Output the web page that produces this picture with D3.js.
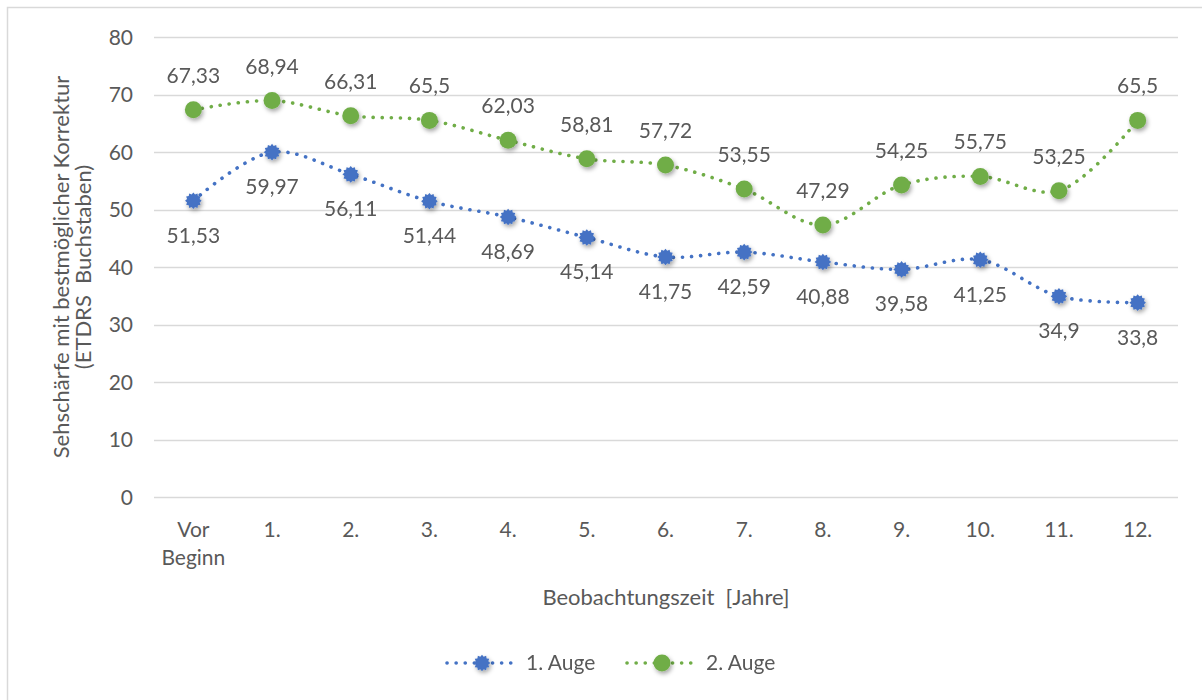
<!DOCTYPE html>
<html>
<head>
<meta charset="utf-8">
<script src="https://cdn.jsdelivr.net/npm/d3@7"></script>
<style>
  html, body { margin: 0; padding: 0; background: #fff; }
  svg text { font-family: Lato, "Open Sans", sans-serif; fill: #595959; white-space: pre; }
</style>
</head>
<body>
<svg id="chart" width="1202" height="700"></svg>
<script>
// Observation periods and visual acuity (ETDRS letters) per eye
const categories = ["Vor\nBeginn", "1.", "2.", "3.", "4.", "5.", "6.", "7.", "8.", "9.", "10.", "11.", "12."];
const auge1 = [51.53, 59.97, 56.11, 51.44, 48.69, 45.14, 41.75, 42.59, 40.88, 39.58, 41.25, 34.9, 33.8];
const auge2 = [67.33, 68.94, 66.31, 65.5, 62.03, 58.81, 57.72, 53.55, 47.29, 54.25, 55.75, 53.25, 65.5];
const yTicks = [0, 10, 20, 30, 40, 50, 60, 70, 80];
const seriesNames = ["1. Auge", "2. Auge"];

const svg = d3.select("#chart");
const fmt = v => String(v).replace(".", ",");
const FS = 21;
const TITLE_FS = 22;

const blue = "#4472C4", green = "#70AD47";

// drop shadow for markers
const defs = svg.append("defs");
const f = defs.append("filter").attr("id", "shadow").attr("x", "-60%").attr("y", "-60%").attr("width", "220%").attr("height", "220%");
f.append("feDropShadow").attr("dx", 1.5).attr("dy", 2.5).attr("stdDeviation", 2)
  .attr("flood-color", "#000").attr("flood-opacity", 0.35);

// outer frame
svg.append("rect").attr("x", 7.5).attr("y", 7.5).attr("width", 1210).attr("height", 710)
  .attr("fill", "none").attr("stroke", "#d9d9d9").attr("stroke-width", 1.5);

const x = d3.scaleBand().domain(categories).range([154, 1177]);
const y = d3.scaleLinear().domain([0, 80]).range([497, 37]);
const cx = c => x(c) + x.bandwidth() / 2;

// gridlines
svg.append("g").selectAll("line").data(yTicks).join("line")
  .attr("x1", 154).attr("x2", 1178)
  .attr("y1", d => Math.round(y(d)) + 0.5).attr("y2", d => Math.round(y(d)) + 0.5)
  .attr("stroke", "#d9d9d9").attr("stroke-width", 1.3);

// y axis labels
const yAxis = svg.append("g").attr("transform", "translate(133,0)")
  .call(d3.axisLeft(y).tickValues(yTicks).tickSize(0).tickPadding(0));
yAxis.select(".domain").remove();
yAxis.selectAll("text").attr("font-size", FS).attr("fill", "#595959")
  .style("font-family", "Lato, sans-serif").attr("dy", "0.35em");

// x axis labels (multi-line)
const xAxis = svg.append("g").attr("transform", "translate(0,497)")
  .call(d3.axisBottom(x).tickSize(0).tickPadding(0).tickFormat(""));
xAxis.select(".domain").remove();
xAxis.selectAll(".tick").each(function(d) {
  const t = d3.select(this).append("text").attr("text-anchor", "middle")
    .attr("font-size", FS).attr("fill", "#595959").style("font-family", "Lato, sans-serif");
  d.split("\n").forEach((line, i) => {
    t.append("tspan").attr("x", 0).attr("y", 40 + i * 28).text(line);
  });
});

// axis titles
svg.append("text").attr("x", 666).attr("y", 605).attr("text-anchor", "middle")
  .attr("font-size", TITLE_FS).text("Beobachtungszeit  [Jahre]");
const yt = svg.append("text").attr("transform", "translate(69,267) rotate(-90)")
  .attr("text-anchor", "middle").attr("font-size", TITLE_FS);
yt.append("tspan").attr("x", 0).attr("y", 0).text("Sehschärfe mit bestmöglicher Korrektur");
yt.append("tspan").attr("x", 0).attr("y", 22).text("(ETDRS  Buchstaben)");

// star-like marker path
function burst(r1, r2, n) {
  const pts = [];
  for (let i = 0; i < n * 2; i++) {
    const a = Math.PI * i / n;
    const r = i % 2 ? r2 : r1;
    pts.push([r * Math.sin(a), -r * Math.cos(a)]);
  }
  return "M" + pts.map(p => p.join(",")).join("L") + "Z";
}
const burstPath = burst(8.3, 6.5, 12);

const line = d3.line().curve(d3.curveCatmullRom.alpha(0.5));

function drawSeries(values, color, marker, labelDy) {
  const pts = values.map((v, i) => [cx(categories[i]), y(v)]);
  svg.append("path").attr("d", line(pts)).attr("fill", "none")
    .attr("stroke", color).attr("stroke-width", 3.6)
    .attr("stroke-linecap", "round").attr("stroke-dasharray", "0.1 9");
  const g = svg.append("g").attr("filter", "url(#shadow)");
  values.forEach((v, i) => {
    const [px, py] = pts[i];
    if (marker === "circle") {
      g.append("circle").attr("cx", px).attr("cy", py).attr("r", 8.5).attr("fill", color);
    } else {
      g.append("path").attr("d", burstPath).attr("transform", `translate(${px},${py})`).attr("fill", color);
    }
  });
  svg.append("g").selectAll("text").data(values).join("text")
    .attr("x", (d, i) => pts[i][0]).attr("y", (d, i) => pts[i][1] + labelDy)
    .attr("text-anchor", "middle").attr("font-size", FS).attr("fill", "#404040")
    .text(fmt);
}

drawSeries(auge1, blue, "burst", 42);
drawSeries(auge2, green, "circle", -27);

// legend
const legend = [
  { name: seriesNames[0], color: blue, marker: "burst", x0: 447 },
  { name: seriesNames[1], color: green, marker: "circle", x0: 627 }
];
const ly = 663;
legend.forEach(l => {
  svg.append("line").attr("x1", l.x0).attr("x2", l.x0 + 70).attr("y1", ly).attr("y2", ly)
    .attr("stroke", l.color).attr("stroke-width", 3.6).attr("stroke-linecap", "round")
    .attr("stroke-dasharray", "0.1 9");
  const gg = svg.append("g").attr("filter", "url(#shadow)");
  if (l.marker === "circle") gg.append("circle").attr("cx", l.x0 + 35).attr("cy", ly).attr("r", 8.5).attr("fill", l.color);
  else gg.append("path").attr("d", burstPath).attr("transform", `translate(${l.x0 + 35},${ly})`).attr("fill", l.color);
  svg.append("text").attr("x", l.x0 + 79).attr("y", ly).attr("dy", "0.35em").attr("font-size", FS).text(l.name);
});
</script>
</body>
</html>
